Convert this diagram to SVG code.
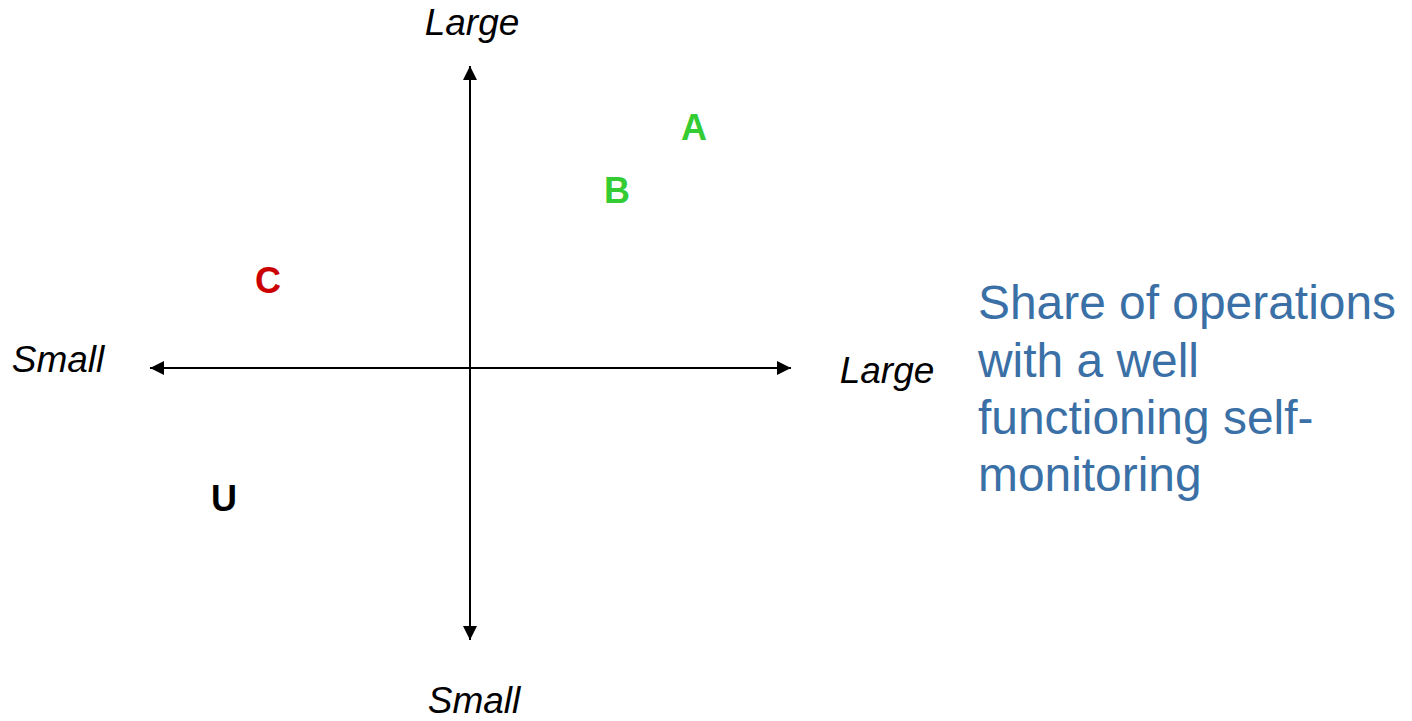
<svg xmlns="http://www.w3.org/2000/svg" width="1412" height="721" viewBox="0 0 1412 721">
<style>
.ax{stroke:#000;stroke-width:2;fill:none}
.lab{font-family:"Liberation Sans",Arial,sans-serif;font-style:italic;font-size:37px;fill:#000}
.pt{font-family:"Liberation Sans",Arial,sans-serif;font-weight:bold;font-size:36px}
.side{font-family:"Liberation Sans",Arial,sans-serif;font-size:47.9px;fill:#3A70A6}
</style>
<defs>
<marker id="ah" viewBox="0 0 10 10" refX="10" refY="5" markerWidth="7.5" markerHeight="7" markerUnits="strokeWidth" orient="auto">
<path d="M0,0 L10,5 L0,10 z" fill="#000"/>
</marker>
</defs>
<rect width="1412" height="721" fill="#fff"/>
<g id="connectors">
<line class="ax" x1="470" y1="368" x2="470" y2="66" marker-end="url(#ah)"/>
<line class="ax" x1="470" y1="368" x2="470" y2="640" marker-end="url(#ah)"/>
<line class="ax" x1="470" y1="368" x2="150" y2="368" marker-end="url(#ah)"/>
<line class="ax" x1="470" y1="368" x2="791" y2="368" marker-end="url(#ah)"/>
</g>
<g id="label-top"><text class="lab" x="472" y="35" text-anchor="middle">Large</text></g>
<g id="label-bottom"><text class="lab" x="474" y="713" text-anchor="middle">Small</text></g>
<g id="label-left"><text class="lab" x="58" y="372" text-anchor="middle">Small</text></g>
<g id="label-right"><text class="lab" x="887" y="383" text-anchor="middle">Large</text></g>
<g id="node-A"><text class="pt" x="694" y="140" text-anchor="middle" fill="#33CC33">A</text></g>
<g id="node-B"><text class="pt" x="617" y="203" text-anchor="middle" fill="#33CC33">B</text></g>
<g id="node-C"><text class="pt" x="268" y="293" text-anchor="middle" fill="#CC0000">C</text></g>
<g id="node-U"><text class="pt" x="224" y="511" text-anchor="middle" fill="#000">U</text></g>
<g id="side-text">
<text class="side" x="978" y="319">Share of operations</text>
<text class="side" x="978" y="377">with a well</text>
<text class="side" x="978" y="434">functioning self-</text>
<text class="side" x="978" y="491">monitoring</text>
</g>
</svg>
